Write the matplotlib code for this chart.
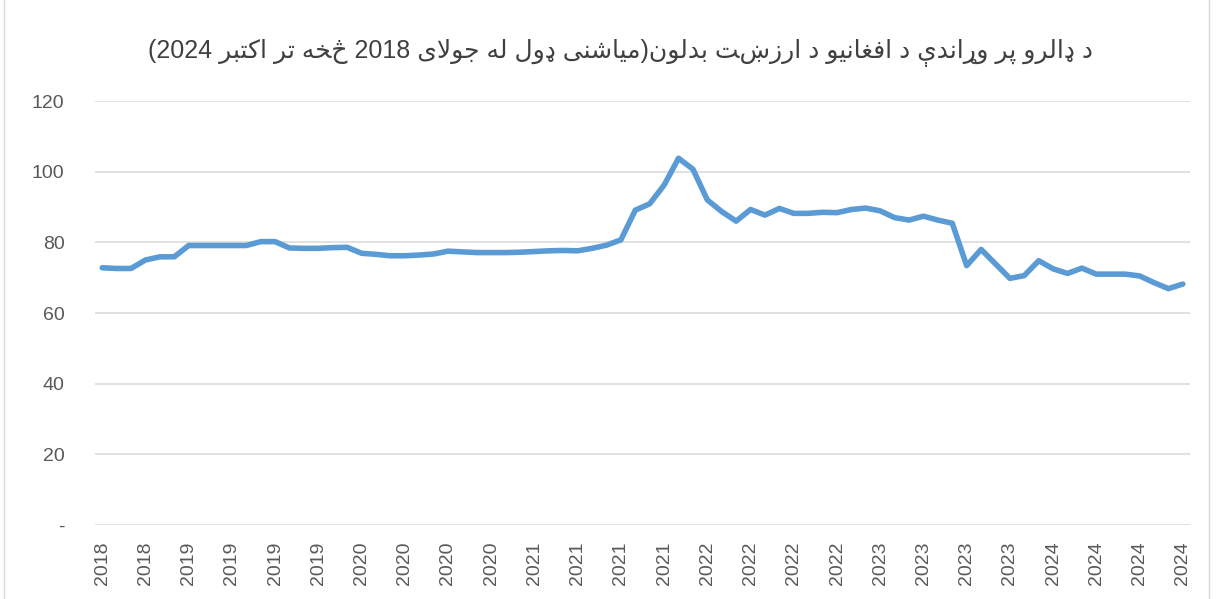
# AFN per USD, monthly, Jul 2018 - Oct 2024
import numpy as np
import pandas as pd
import matplotlib.pyplot as plt
from matplotlib.lines import Line2D

months = pd.date_range('2018-07-01', '2024-10-01', freq='MS')
afn_per_usd = [72.8, 72.6, 72.6, 75.0, 75.9, 75.9, 79.1, 79.1, 79.1, 79.1,
               79.1, 80.2, 80.2, 78.4, 78.3, 78.3, 78.5, 78.6, 76.9, 76.6,
               76.2, 76.2, 76.4, 76.7, 77.5, 77.3, 77.1, 77.1, 77.1, 77.2,
               77.4, 77.6, 77.7, 77.6, 78.3, 79.2, 80.7, 89.1, 90.9, 96.2,
               103.8, 100.7, 92.0, 88.7, 86.0, 89.3, 87.7, 89.6, 88.2, 88.2,
               88.5, 88.4, 89.3, 89.7, 88.9, 87.0, 86.3, 87.4, 86.3, 85.4,
               73.4, 78.0, 73.9, 69.8, 70.6, 74.8, 72.5, 71.2, 72.7, 71.0,
               71.0, 71.0, 70.5, 68.6, 66.9, 68.2]
y_ticks = [0, 20, 40, 60, 80, 100, 120]
y_labels = ['-', '20', '40', '60', '80', '100', '120']
title = 'د ډالرو پر وړاندې د افغانیو د ارزښت بدلون(میاشنی ډول له جولای 2018 څخه تر اکتبر 2024)'

# --- minimal arabic shaping, matplotlib has no bidi / joining support ---
# char: (isolated, final, initial, medial); None = right-joining only
FORMS = {
    'ا': ('\uFE8D', '\uFE8E', None, None),
    'د': ('\uFEA9', '\uFEAA', None, None),
    'ر': ('\uFEAD', '\uFEAE', None, None),
    'ز': ('\uFEAF', '\uFEB0', None, None),
    'و': ('\uFEED', '\uFEEE', None, None),
    'ډ': ('ډ', 'ډ', None, None),
    'ړ': ('ړ', 'ړ', None, None),
    'ب': ('\uFE8F', '\uFE90', '\uFE91', '\uFE92'),
    'ت': ('\uFE95', '\uFE96', '\uFE97', '\uFE98'),
    'ج': ('\uFE9D', '\uFE9E', '\uFE9F', '\uFEA0'),
    'خ': ('\uFEA5', '\uFEA6', '\uFEA7', '\uFEA8'),
    'ش': ('\uFEB5', '\uFEB6', '\uFEB7', '\uFEB8'),
    'غ': ('\uFECD', '\uFECE', '\uFECF', '\uFED0'),
    'ف': ('\uFED1', '\uFED2', '\uFED3', '\uFED4'),
    'ل': ('\uFEDD', '\uFEDE', '\uFEDF', '\uFEE0'),
    'م': ('\uFEE1', '\uFEE2', '\uFEE3', '\uFEE4'),
    'ن': ('\uFEE5', '\uFEE6', '\uFEE7', '\uFEE8'),
    'ه': ('\uFEE9', '\uFEEA', '\uFEEB', '\uFEEC'),
    'پ': ('\uFB56', '\uFB57', '\uFB58', '\uFB59'),
    'ک': ('\uFB8E', '\uFB8F', '\uFB90', '\uFB91'),
    'ی': ('\uFBFC', '\uFBFD', '\uFBFE', '\uFBFF'),
    'ې': ('\uFBE4', '\uFBE5', '\uFBE6', '\uFBE7'),
    'ښ': ('ښ', 'ښ', 'ښ', 'ښ'),
    'څ': ('څ', 'څ', 'څ', 'څ'),
}


def dual(c):
    return c in FORMS and FORMS[c][2] is not None


def shape(text):
    out = []
    i = 0
    while i < len(text):
        c = text[i]
        if c not in FORMS:
            out.append(c)
            i += 1
            continue
        prev = text[i - 1] if i > 0 else ''
        join_prev = dual(prev)
        if c == 'ل' and i + 1 < len(text) and text[i + 1] == 'ا':
            out.append('\uFEFC' if join_prev else '\uFEFB')
            i += 2
            continue
        nxt = text[i + 1] if i + 1 < len(text) else ''
        join_next = dual(c) and nxt in FORMS
        iso, fin, ini, med = FORMS[c]
        if join_prev and join_next:
            out.append(med)
        elif join_prev:
            out.append(fin)
        elif join_next:
            out.append(ini)
        else:
            out.append(iso)
        i += 1
    return ''.join(out)


def visual(text):
    s = shape(text)
    mirror = {'(': ')', ')': '('}
    runs = []
    for ch in s:
        if ch.isdigit() and runs and runs[-1][0].isdigit():
            runs[-1] += ch
        else:
            runs.append(ch)
    return ''.join(mirror.get(r, r) for r in reversed(runs))


fig = plt.figure(figsize=(12.16, 5.99), dpi=100)
ax = fig.add_axes([95 / 1216, 1 - 525 / 599, 1095 / 1216, 424 / 599])

x = np.arange(len(afn_per_usd))
ax.plot(x, afn_per_usd, color='#5B9BD5', lw=4, solid_joinstyle='round',
        solid_capstyle='round', zorder=3)

ax.set_xlim(-0.5, len(afn_per_usd) - 0.5)
ax.set_ylim(0, 120)
ax.set_yticks(y_ticks)
ax.set_yticklabels(y_labels)
ax.set_xticks(x[::3])
ax.set_xticklabels([str(d.year) for d in months[::3]], rotation=90)
ax.grid(axis='y', color='#D9D9D9', lw=1.1)
ax.set_axisbelow(True)
for s in ax.spines.values():
    s.set_visible(False)
ax.tick_params(axis='both', length=0, colors='#595959', labelsize=14)
ax.tick_params(axis='y', pad=22)
ax.tick_params(axis='x', pad=12)
for lbl in ax.get_xticklabels() + ax.get_yticklabels():
    lbl.set_fontfamily(['Liberation Sans', 'DejaVu Sans'])

fig.text(620 / 1216, 1 - 53 / 599, visual(title), ha='center', va='center',
         fontsize=18, color='#404040', family=['Liberation Sans', 'DejaVu Sans'])

# chart area border edges
for xb in (4 / 1216, 1209 / 1216):
    fig.add_artist(Line2D([xb, xb], [0, 1], color='#D9D9D9', lw=1))

fig.savefig('out.png', dpi=100)
